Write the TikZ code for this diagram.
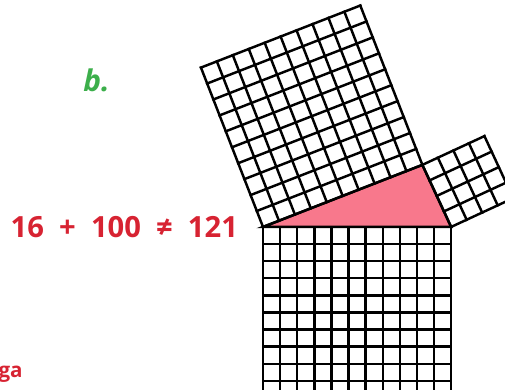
\documentclass[tikz,border=0pt]{standalone}
\usepackage{fontspec}
\setmainfont{Open Sans}
\newfontfamily\sumfont[WordSpace=2.0]{Open Sans}
\usetikzlibrary{positioning}
\definecolor{eqred}{RGB}{215,35,50}
\definecolor{bgreen}{RGB}{60,175,75}
\definecolor{tripink}{RGB}{248,120,140}

\begin{document}
\begin{tikzpicture}[
        x=0.342cm, y=0.342cm,
        gridline/.style={line width=1.4pt, line cap=rect, line join=miter},
        eqtext/.style={inner sep=0pt, text=eqred, font=\sumfont\fontsize{16.6}{20}\selectfont\bfseries},
    ]
        % Frame of the page
        \useasboundingbox (-15.38,-9.53) rectangle (14.15,13.27);
        \clip (-15.38,-9.53) rectangle (14.15,13.27);

        % Triangle corners (sides 10, 4 and 11 cells)
        \coordinate (A) at (0,0);
        \coordinate (B) at (11,0);
        \coordinate (C) at (9.318,3.629);
        \fill[tripink] (A) -- (C) -- (B) -- cycle;

        % Square on the long side (11 x 11)
        \begin{scope}[shift={(A)}]
            \foreach \i in {0,...,11} {
                \draw[gridline] (\i,0) -- (\i,-11);
                \draw[gridline] (0,-\i) -- (11,-\i);
            }
        \end{scope}

        % Square on the left side (10 x 10)
        \begin{scope}[shift={(A)}, rotate=21.28]
            \foreach \i in {0,...,10} {
                \draw[gridline] (\i,0) -- (\i,10);
                \draw[gridline] (0,\i) -- (10,\i);
            }
        \end{scope}

        % Square on the right side (4 x 4)
        \begin{scope}[shift={(C)}, rotate=-65.13]
            \foreach \i in {0,...,4} {
                \draw[gridline] (\i,0) -- (\i,4);
                \draw[gridline] (0,\i) -- (4,\i);
            }
        \end{scope}
        \draw[gridline] (A) -- (C) -- (B) -- cycle;

        % Labels
        \node[eqtext, anchor=base east] (SUM) at (-1.45,-0.6) {16 + 100 ≠ 121};
        \node[inner sep=0pt, text=bgreen, anchor=base west, font=\fontsize{17}{20}\selectfont\bfseries\itshape] (PART) at (-10.53,7.91) {b.};
        \node[inner sep=0pt, text=eqred, anchor=base east, font=\fontsize{11.7}{14}\selectfont\bfseries] (WORD) at (-14.04,-8.79) {ga};
    \end{tikzpicture}
\end{document}
